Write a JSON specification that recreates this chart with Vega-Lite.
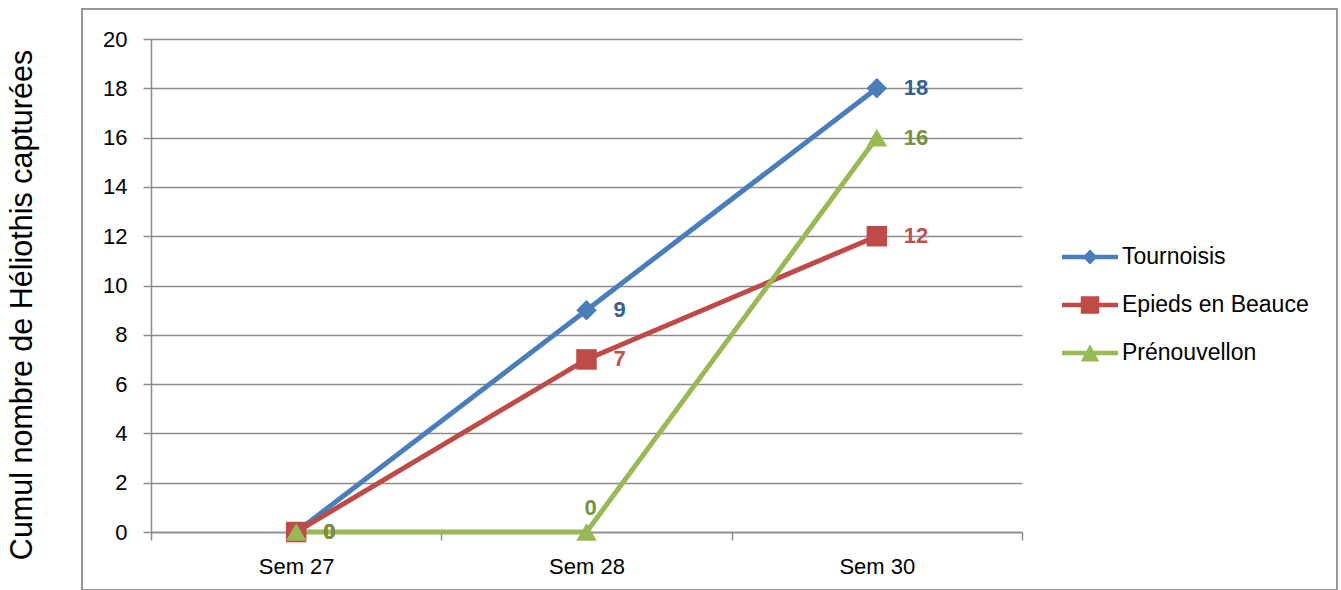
{
  "$schema": "https://vega.github.io/schema/vega-lite/v6.json",
  "width": 1255,
  "height": 581,
  "autosize": {"type": "none"},
  "padding": {"left": 82, "top": 9, "right": 4, "bottom": 0},
  "background": "white",
  "config": {
    "view": {"stroke": "#979797", "strokeWidth": 2},
    "font": "Liberation Sans",
    "axis": {
      "domainColor": "#8c8c8c",
      "domainWidth": 1.5,
      "tickColor": "#8c8c8c",
      "tickWidth": 1.5,
      "tickSize": 8,
      "gridColor": "#8c8c8c",
      "gridWidth": 1.5,
      "labelFont": "Liberation Sans",
      "labelFontSize": 22,
      "labelColor": "black"
    }
  },
  "data": {
    "values": [
      {"semaine": "Sem 27", "site": "Tournoisis", "cumul": 0},
      {"semaine": "Sem 28", "site": "Tournoisis", "cumul": 9},
      {"semaine": "Sem 30", "site": "Tournoisis", "cumul": 18},
      {"semaine": "Sem 27", "site": "Epieds en Beauce", "cumul": 0},
      {"semaine": "Sem 28", "site": "Epieds en Beauce", "cumul": 7},
      {"semaine": "Sem 30", "site": "Epieds en Beauce", "cumul": 12},
      {"semaine": "Sem 27", "site": "Prénouvellon", "cumul": 0},
      {"semaine": "Sem 28", "site": "Prénouvellon", "cumul": 0},
      {"semaine": "Sem 30", "site": "Prénouvellon", "cumul": 16}
    ]
  },
  "encoding": {
    "x": {
      "field": "semaine",
      "type": "ordinal",
      "bandPosition": 0.5,
      "scale": {"type": "band", "domain": ["Sem 27", "Sem 28", "Sem 30"], "range": [69, 940], "paddingInner": 0, "paddingOuter": 0},
      "axis": {"title": null, "offset": -58, "tickBand": "extent", "labelAngle": 0, "grid": false, "labelPadding": 16}
    },
    "y": {
      "field": "cumul",
      "type": "quantitative",
      "scale": {"domain": [0, 20], "range": [523, 30], "nice": false, "zero": true},
      "axis": {
        "title": "Cumul nombre de Héliothis capturées",
        "offset": -69,
        "values": [0, 2, 4, 6, 8, 10, 12, 14, 16, 18, 20],
        "grid": true,
        "labelPadding": 16,
        "titleX": -120,
        "titleY": 295.5,
        "titleAngle": -90,
        "titleAlign": "center",
        "titleBaseline": "alphabetic",
        "titleFont": "Liberation Sans",
        "titleFontSize": 30.5,
        "titleFontWeight": "normal",
        "titleColor": "black"
      }
    }
  },
  "layer": [
    {
      "transform": [{"filter": "false"}],
      "mark": {"type": "point", "filled": true, "opacity": 1},
      "encoding": {
        "color": {
          "field": "site",
          "type": "nominal",
          "scale": {"domain": ["Tournoisis", "Epieds en Beauce", "Prénouvellon"], "range": ["#4A7EBB", "#BE4B48", "#98B954"]},
          "legend": {
            "orient": "none",
            "legendX": 980,
            "legendY": 220,
            "title": null,
            "padding": 0,
            "symbolSize": 3136,
            "symbolStrokeWidth": 0,
            "symbolOpacity": 1,
            "labelOffset": 4,
            "labelFont": "Liberation Sans",
            "labelFontSize": 23,
            "labelColor": "black",
            "labelLimit": 400,
            "rowPadding": 8
          }
        },
        "shape": {
          "field": "site",
          "type": "nominal",
          "scale": {
            "domain": ["Tournoisis", "Epieds en Beauce", "Prénouvellon"],
            "range": [
              "M-1,-0.08H1V0.08H-1Z M0,-0.27L0.27,0L0,0.27L-0.27,0Z",
              "M-1,-0.08H1V0.08H-1Z M-0.33,-0.31H0.33V0.31H-0.33Z",
              "M-1,-0.08H1V0.08H-1Z M0,-0.31L0.33,0.3H-0.33Z"
            ]
          }
        }
      }
    },
    {
      "mark": {"type": "line", "strokeWidth": 5},
      "encoding": {
        "color": {"field": "site", "type": "nominal", "legend": null}
      }
    },
    {
      "mark": {"type": "point", "filled": true, "opacity": 1, "size": 420},
      "encoding": {
        "color": {"field": "site", "type": "nominal", "legend": null},
        "shape": {
          "condition": [
            {"test": "datum.site === 'Tournoisis'", "value": "diamond"},
            {"test": "datum.site === 'Epieds en Beauce'", "value": "square"}
          ],
          "value": "triangle-up"
        }
      }
    },
    {
      "transform": [{"filter": "!(datum.site === 'Prénouvellon' && datum.semaine === 'Sem 28')"}],
      "mark": {"type": "text", "align": "left", "baseline": "middle", "dx": 27, "font": "Liberation Sans", "fontSize": 22, "fontWeight": "bold"},
      "encoding": {
        "text": {"field": "cumul", "type": "quantitative"},
        "fill": {
          "field": "site",
          "type": "nominal",
          "scale": {"domain": ["Tournoisis", "Epieds en Beauce", "Prénouvellon"], "range": ["#376092", "#C0504D", "#77933C"]},
          "legend": null
        }
      }
    },
    {
      "transform": [{"filter": "datum.site === 'Prénouvellon' && datum.semaine === 'Sem 28'"}],
      "mark": {"type": "text", "align": "center", "baseline": "middle", "dx": 4, "dy": -24, "font": "Liberation Sans", "fontSize": 22, "fontWeight": "bold"},
      "encoding": {
        "text": {"field": "cumul", "type": "quantitative"},
        "fill": {
          "field": "site",
          "type": "nominal",
          "legend": null
        }
      }
    }
  ]
}
